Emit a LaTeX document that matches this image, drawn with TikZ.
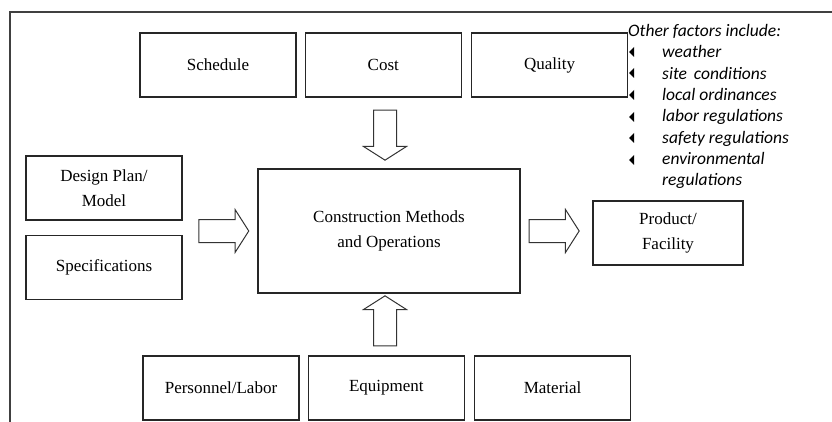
\documentclass[tikz,border=0pt]{standalone}
\usepackage{fontspec}
\setmainfont{Liberation Serif}
\newfontfamily\listfont{Carlito}
\usetikzlibrary{positioning,shapes.arrows,shapes.geometric}

\begin{document}
\begin{tikzpicture}[x=1pt, y=1pt,
  font=\fontsize{17}{25}\selectfont,
  box/.style={draw=black!85, line width=1.3pt, align=center, minimum width=156pt, minimum height=64pt, inner sep=2pt},
  blockarrow/.style={single arrow, draw=black!80, line width=1pt, inner sep=11pt, minimum height=50pt, single arrow head extend=10pt, single arrow tip angle=115},
  factor/.style={font=\listfont\itshape\fontsize{17.5}{21.3}\selectfont, anchor=base west, inner sep=0pt, align=left},
  bul/.style={isosceles triangle, fill=black, inner sep=0pt, shape border rotate=180, isosceles triangle stretches, minimum width=10pt, minimum height=5pt}
]
\useasboundingbox (0,0) rectangle (832,-422);
% frame, cut off at the right and bottom
\draw[line width=1.6pt, black!75] (10,-422) -- (10,-12) -- (832,-12);

% top row
\node[box] (sched) at (218,-65) {Schedule};
\node[box, right=8pt of sched] (cost) {Cost};
\node[box, right=9pt of cost] (qual) {Quality};

% left inputs
\node[box] (design) at (104,-188) {Design Plan/\\Model};
\node[box, below=14pt of design] (spec) {Specifications};

% centre and output
\node[box, minimum width=262pt, minimum height=124pt] (main) at (389,-231) {Construction Methods\\and Operations};
\node[box, minimum width=150pt] (prod) at (668,-233) {Product/\\Facility};

% bottom row
\node[box] (pers) at (221,-388) {Personnel/Labor};
\node[box, right=8pt of pers] (equip) {Equipment};
\node[box, right=9pt of equip] (mat) {Material};

% block arrows
\node[blockarrow, left=8pt of main.west, anchor=east] (inarr) {};
\node[blockarrow, right=8pt of main.east, anchor=west] (outarr) {};
\node[blockarrow, rotate=-90] (downarr) at (385,-131.5) {};
\node[blockarrow, rotate=90] (uparr) at (385,-324.5) {};

% other factors
\node[factor] (fhead) at (628,-37) {Other factors include:};
\node[factor] (f1) at (662,-58) {weather};
\node[factor] (f2) at (662,-79.5) {site\, conditions};
\node[factor] (f3) at (662,-101) {local ordinances};
\node[factor] (f4) at (662,-122) {labor regulations};
\node[factor] (f5) at (662,-143.5) {safety regulations};
\node[factor, anchor=north west] (f6) at (662,-152) {environmental\\regulations};
\node[bul] (b1) at (632,-52) {};
\node[bul] (b2) at (632,-73) {};
\node[bul] (b3) at (632,-95) {};
\node[bul] (b4) at (632,-117) {};
\node[bul] (b5) at (632,-138) {};
\node[bul] (b6) at (632,-160) {};
\end{tikzpicture}
\end{document}
